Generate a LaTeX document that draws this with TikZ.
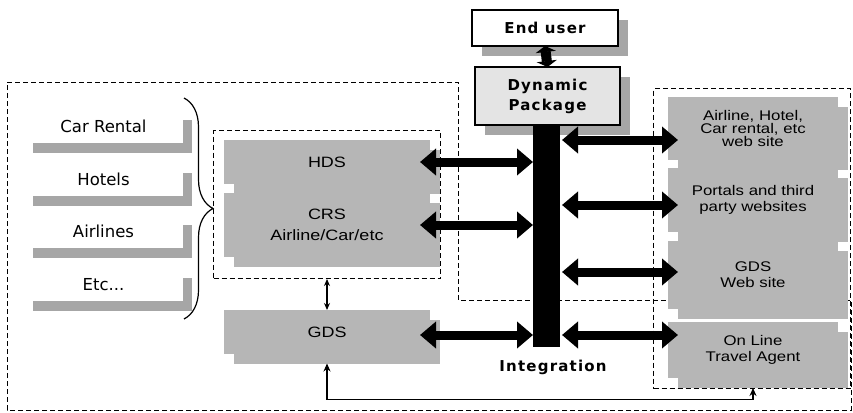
\documentclass[tikz,border=0pt]{standalone}
\usepackage{fontspec}
\setmainfont{DejaVu Sans}
\newfontfamily\boxfont[FakeStretch=1.2]{Liberation Sans}
\newfontfamily\spacedfont[LetterSpace=8]{DejaVu Sans}
\usetikzlibrary{arrows.meta,shadows,decorations.pathreplacing}

\definecolor{boxgray}{HTML}{B6B6B6}
\definecolor{shadegray}{HTML}{A6A6A6}
\definecolor{pkggray}{HTML}{E4E4E4}

\tikzset{
  dashbox/.style={draw, line width=1pt, dash pattern=on 5pt off 3pt},
  syst/.style={anchor=north west, fill=boxgray, inner sep=0pt, outer sep=0pt,
    align=center, font=\boxfont\fontsize{14}{16}\selectfont,
    drop shadow={shadow xshift=9.5pt, shadow yshift=-9.5pt, fill=boxgray, opacity=1}},
  source/.style={anchor=north west, fill=white, inner sep=0pt, outer sep=0pt,
    minimum width=159pt, minimum height=33pt, font=\fontsize{16.5}{18}\selectfont,
    drop shadow={shadow xshift=9pt, shadow yshift=-10pt, fill=shadegray, opacity=1}},
  titlebox/.style={anchor=north west, draw, line width=1.2pt, inner sep=0pt, outer sep=0pt,
    align=center, font=\spacedfont\bfseries\fontsize{15}{20}\selectfont,
    drop shadow={shadow xshift=10pt, shadow yshift=-10pt, fill=shadegray, opacity=1}},
  bigarrow/.style={line width=9pt, {Triangle[length=16pt,width=26pt]}-{Triangle[length=16pt,width=26pt]}},
  midarrow/.style={line width=10pt, {Triangle[length=6pt,width=20pt]}-{Triangle[length=6pt,width=20pt]}},
  thinarrow/.style={line width=1.1pt, {Stealth[length=7pt,width=6pt]}-{Stealth[length=7pt,width=6pt]}}
}

\begin{document}
\begin{tikzpicture}[x=1pt,y=-1pt]
\useasboundingbox (0,0) rectangle (853,412);

% outer boundary of the supplier side
\coordinate (o1) at (7,82);
\coordinate (o2) at (458,82);
\coordinate (o3) at (458,300);
\coordinate (o4) at (851,300);
\coordinate (o5) at (851,410);
\coordinate (o6) at (7,410);
\draw[dashbox] (o1) -- (o2) -- (o3) -- (o4) -- (o5) -- (o6) -- cycle;

% suppliers
\node[source] (car) at (24,110) {Car Rental};
\node[source] (hotels) at (24,163) {Hotels};
\node[source] (airlines) at (24,215) {Airlines};
\node[source] (etc) at (24,268) {Etc...};
\draw[line width=1.2pt, decorate, decoration={brace, amplitude=29pt}]
  ([xshift=1pt,yshift=12pt]car.north east) -- ([xshift=1pt,yshift=-18pt]etc.south east);

% reservation systems
\node[dashbox, anchor=north west, minimum width=227pt, minimum height=148pt, inner sep=0pt] (core) at (213,130) {};
\node[syst, minimum width=206pt, minimum height=44pt, font=\boxfont\fontsize{15}{16}\selectfont] (hds) at (224,140) {HDS};
\node[syst, minimum width=206pt, minimum height=64pt, font=\boxfont\fontsize{15}{21}\selectfont] (crs) at (224,193) {CRS\\Airline/Car/etc};
\node[syst, minimum width=206pt, minimum height=44pt, font=\boxfont\fontsize{15}{16}\selectfont] (gds) at (224,310) {GDS};
\draw[thinarrow] (core.south) -- (core.south |- gds.north);

% distribution channels
\node[dashbox, anchor=north west, minimum width=197pt, minimum height=300pt, inner sep=0pt] (web) at (653,88) {};
\node[syst, minimum width=170pt, minimum height=63pt, font=\boxfont\fontsize{14}{13}\selectfont] (r1) at (668,97) {Airline, Hotel,\\Car rental, etc\\web site};
\node[syst, minimum width=170pt, minimum height=64pt] (r2) at (668,168) {Portals and third\\party websites};
\node[syst, minimum width=170pt, minimum height=68pt] (r3) at (668,241) {GDS\\Web site};
\node[syst, minimum width=170pt, minimum height=56pt] (r4) at (668,322) {On Line\\Travel Agent};

% end user and package
\node[titlebox, fill=white, minimum width=146pt, minimum height=36pt] (user) at (472,10) {End user};
\node[titlebox, fill=pkggray, minimum width=145pt, minimum height=58pt] (pkg) at (475,67) {Dynamic\\Package};
\draw[midarrow] (pkg.north) -- (user.south);

% integration bus
\node[anchor=north west, fill=black, inner sep=0pt, outer sep=0pt, minimum width=27pt, minimum height=222pt] (bar) at (533,125) {};
\node[font=\spacedfont\bfseries\fontsize{15}{18}\selectfont] (integ) at (553,367) {Integration};

\draw[bigarrow] ([xshift=-10pt]hds.east) -- (bar.west |- hds.east);
\draw[bigarrow] ([xshift=-10pt]crs.east) -- (bar.west |- crs.east);
\draw[bigarrow] ([xshift=-10pt,yshift=-3pt]gds.east) coordinate (g1) -- (bar.west |- g1);

\coordinate (a1) at ([xshift=10pt,yshift=-11.5pt]r1.west);
\coordinate (a2) at ([xshift=10pt,yshift=-5pt]r2.west);
\coordinate (a3) at ([xshift=10pt,yshift=3pt]r3.west);
\coordinate (a4) at ([xshift=10pt,yshift=15pt]r4.west);
\draw[bigarrow] ([xshift=2pt]bar.east |- a1) -- (a1);
\draw[bigarrow] ([xshift=2pt]bar.east |- a2) -- (a2);
\draw[bigarrow] ([xshift=2pt]bar.east |- a3) -- (a3);
\draw[bigarrow] ([xshift=2pt]bar.east |- a4) -- (a4);

% link from the GDS to the online agents
\draw[line width=1.1pt, {Stealth[length=8pt,width=7pt]}-{Stealth[length=8pt,width=7pt]}]
  ([yshift=-9.5pt]gds.south) -- ++(0,36) -| ([yshift=-10pt]r4.south);
\end{tikzpicture}
\end{document}
